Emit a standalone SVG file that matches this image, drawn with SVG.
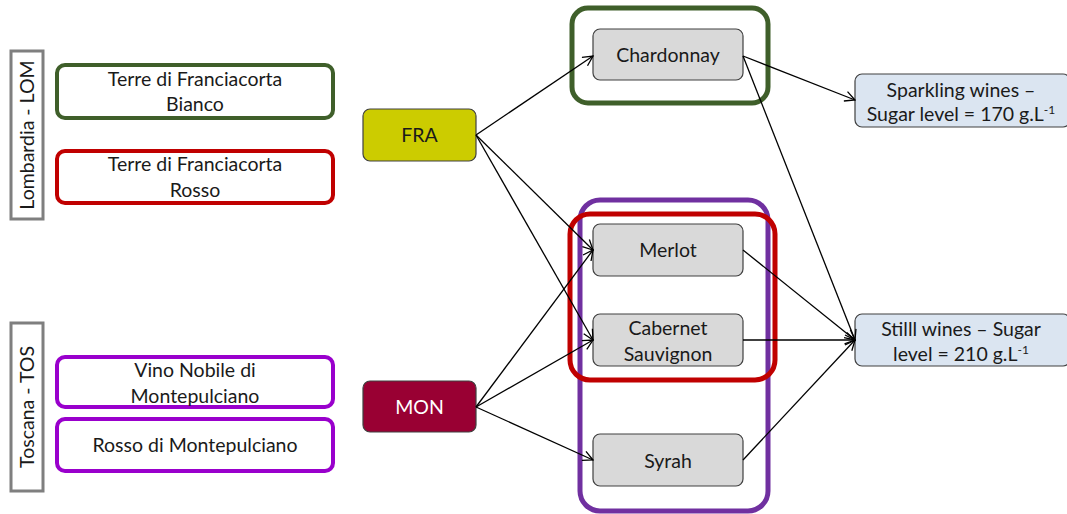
<svg xmlns="http://www.w3.org/2000/svg" width="1067" height="514" viewBox="0 0 1067 514">
<style>
text{font-family:Lato,"Open Sans","Liberation Sans",sans-serif;font-size:19.5px;fill:#1a1a1a;text-anchor:middle}
.region{fill:#fff;stroke:#7f7f7f;stroke-width:3}
.src{fill:#fff;stroke-width:4}
.grape{fill:#d9d9d9;stroke:#404040;stroke-width:1.2}
.out{fill:#dbe5f1;stroke:#404040;stroke-width:1.2}
.grp{fill:none;stroke-width:5}
.conn line{stroke:#000;stroke-width:1.3;marker-end:url(#ah)}
</style>
<defs>
<marker id="ah" viewBox="0 0 12 12" refX="11" refY="6" markerWidth="12" markerHeight="12" markerUnits="userSpaceOnUse" orient="auto">
<path d="M1,1 L11,6 L1,11" fill="none" stroke="#000" stroke-width="1.3"/>
</marker>
</defs>
<rect width="1067" height="514" fill="#fff"/>

<g id="lombardia">
<rect class="region" x="11" y="51" width="32" height="168"/>
<text transform="translate(34,135) rotate(-90)">Lombardia - LOM</text>
</g>
<g id="toscana">
<rect class="region" x="11" y="323" width="32" height="168"/>
<text transform="translate(34,407) rotate(-90)">Toscana - TOS</text>
</g>

<g id="terre-bianco">
<rect class="src" x="57" y="65" width="276" height="53" rx="8" stroke="#3f5f2a"/>
<text x="195" y="86">Terre di Franciacorta</text>
<text x="195" y="111">Bianco</text>
</g>
<g id="terre-rosso">
<rect class="src" x="57" y="151" width="276" height="52" rx="8" stroke="#c00000"/>
<text x="195" y="171">Terre di Franciacorta</text>
<text x="195" y="197">Rosso</text>
</g>
<g id="vino-nobile">
<rect class="src" x="57" y="357" width="276" height="50" rx="8" stroke="#9900cc"/>
<text x="195" y="377">Vino Nobile di</text>
<text x="195" y="403">Montepulciano</text>
</g>
<g id="rosso-montepulciano">
<rect class="src" x="57" y="419" width="276" height="52" rx="8" stroke="#9900cc"/>
<text x="195" y="452">Rosso di Montepulciano</text>
</g>

<g id="fra">
<rect x="363" y="109" width="113" height="52" rx="7" fill="#cccc00" stroke="#404040" stroke-width="1.2"/>
<text x="419.5" y="142">FRA</text>
</g>
<g id="mon">
<rect x="363" y="381" width="113" height="51" rx="7" fill="#990033" stroke="#404040" stroke-width="1.2"/>
<text x="419.5" y="414" style="fill:#fff">MON</text>
</g>

<g id="group-green"><rect class="grp" x="572" y="8" width="196" height="95" rx="16" stroke="#3f5f2a"/></g>
<g id="group-purple"><rect class="grp" x="580" y="200" width="188" height="311" rx="20" stroke="#7030a0"/></g>
<g id="group-red"><rect class="grp" x="570" y="214" width="205" height="166" rx="20" stroke="#c00000"/></g>

<g id="chardonnay">
<rect class="grape" x="593" y="29" width="150" height="51" rx="7"/>
<text x="668" y="62">Chardonnay</text>
</g>
<g id="merlot">
<rect class="grape" x="593" y="224" width="150" height="52" rx="7"/>
<text x="668" y="257">Merlot</text>
</g>
<g id="cabernet">
<rect class="grape" x="593" y="314" width="150" height="52" rx="7"/>
<text x="668" y="335">Cabernet</text>
<text x="668" y="361">Sauvignon</text>
</g>
<g id="syrah">
<rect class="grape" x="593" y="434" width="150" height="52" rx="7"/>
<text x="668" y="468">Syrah</text>
</g>

<g id="sparkling">
<rect class="out" x="855" y="74" width="215" height="53" rx="7"/>
<text x="961" y="97">Sparkling wines –</text>
<text x="961" y="121">Sugar level = 170 g.L<tspan dy="-7" font-size="12">-1</tspan></text>
</g>
<g id="still">
<rect class="out" x="855" y="314" width="215" height="52" rx="7"/>
<text x="961" y="336">Stilll wines – Sugar</text>
<text x="961" y="361">level = 210 g.L<tspan dy="-7" font-size="12">-1</tspan></text>
</g>

<g id="connectors" class="conn">
<line x1="476" y1="135" x2="593" y2="56"/>
<line x1="476" y1="135" x2="593" y2="250"/>
<line x1="476" y1="135" x2="593" y2="340"/>
<line x1="476" y1="407" x2="593" y2="250"/>
<line x1="476" y1="407" x2="593" y2="340"/>
<line x1="476" y1="407" x2="593" y2="460"/>
<line x1="743" y1="56" x2="855" y2="100"/>
<line x1="743" y1="56" x2="855" y2="340"/>
<line x1="743" y1="250" x2="855" y2="340"/>
<line x1="743" y1="340" x2="855" y2="340"/>
<line x1="743" y1="460" x2="855" y2="340"/>
</g>
</svg>
